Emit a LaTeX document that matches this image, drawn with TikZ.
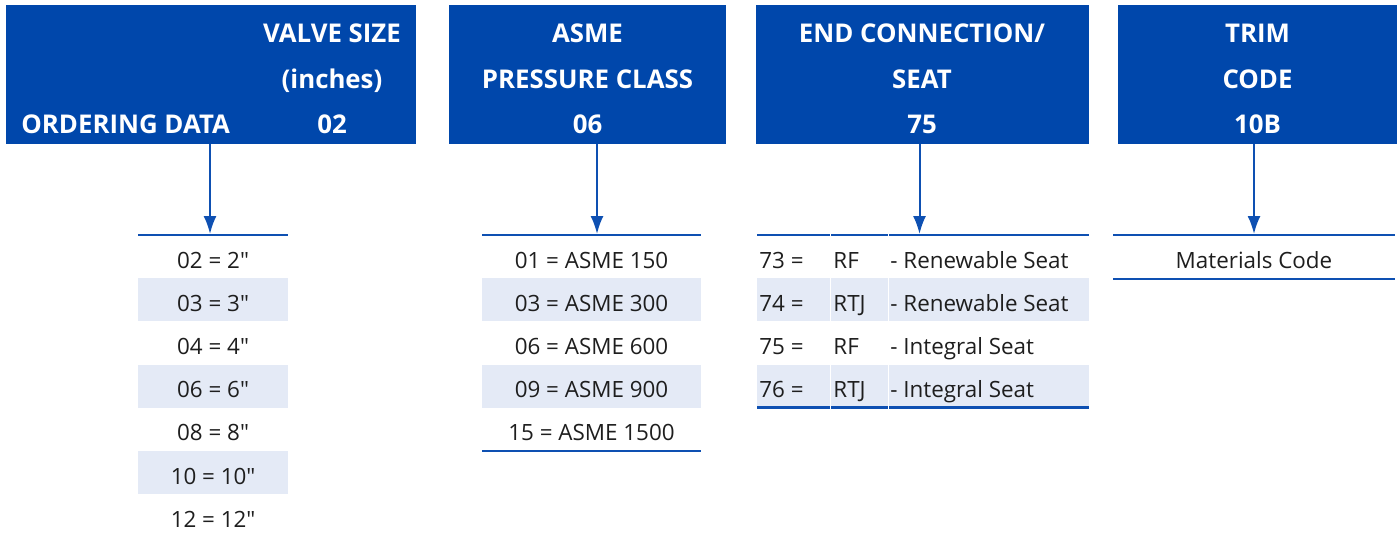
\documentclass[tikz,border=0pt]{standalone}
\usepackage{fontspec}
\setmainfont{Open Sans}
\usetikzlibrary{arrows.meta}

\begin{document}
\begin{tikzpicture}[x=0.5pt, y=-0.5pt]
            \definecolor{head_color}{RGB}{0,71,171}
            \definecolor{line_color}{RGB}{14,80,178}
            \definecolor{row_color}{RGB}{228,234,246}
            \definecolor{text_color}{RGB}{30,30,30}
            \tikzstyle{head} = [draw=none, fill=head_color, shape=rectangle, inner sep=0pt, minimum height=69.5pt]
            \tikzstyle{htxt} = [inner sep=0pt, anchor=base, text=white, font=\fontsize{12.9}{15}\selectfont\bfseries]
            \tikzstyle{rtxt} = [inner sep=0pt, anchor=base, text=text_color, font=\fontsize{11.2}{14}\selectfont]
            \tikzstyle{rule} = [line_color, line width=1pt]
            \tikzstyle{arr} = [line_color, line width=1pt, -{Latex[length=9pt,width=6.5pt]}]
            \useasboundingbox (0,0) rectangle (1397,536);
            % header boxes
            \node[head, minimum width=205pt] (h0) at (211,74.5) {};
            \node[head, minimum width=138.5pt] (h1) at (587.5,74.5) {};
            \node[head, minimum width=166.5pt] (h2) at (922.5,74.5) {};
            \node[head, minimum width=139.5pt] (h3) at (1257.5,74.5) {};
            \node[htxt] (vs0) at (332,42) {VALVE SIZE};
            \node[htxt] (vs1) at (332,88) {(inches)};
            \node[htxt] (vs2) at (332,133) {02};
            \node[htxt, anchor=base west] (od) at (21,133) {ORDERING DATA};
            \node[htxt] (pc0) at (587.5,42) {ASME};
            \node[htxt] (pc1) at (587.5,88) {PRESSURE CLASS};
            \node[htxt] (pc2) at (587.5,133) {06};
            \node[htxt] (ec0) at (922,42) {END CONNECTION/};
            \node[htxt] (ec1) at (922,88) {SEAT};
            \node[htxt] (ec2) at (922,133) {75};
            \node[htxt] (tc0) at (1257.5,42) {TRIM};
            \node[htxt] (tc1) at (1257.5,88) {CODE};
            \node[htxt] (tc2) at (1257.5,133) {10B};
            % shaded rows
            \fill[row_color] (138,278.2) rectangle (288,321.4);
            \fill[row_color] (138,364.6) rectangle (288,407.8);
            \fill[row_color] (138,451) rectangle (288,494.2);
            \fill[row_color] (482,278.2) rectangle (701,321.4);
            \fill[row_color] (482,364.6) rectangle (701,407.8);
            \fill[row_color] (757,278.2) rectangle (1089,321.4);
            \fill[row_color] (757,364.6) rectangle (1089,407.8);
            % table rules
            \draw[rule] (138,235) -- (288,235);
            \draw[rule] (482,235) -- (701,235);
            \draw[rule] (482,451) -- (701,451);
            \draw[rule] (757,235) -- (1089,235);
            \draw[rule, line width=1.2pt] (757,407.5) -- (1089,407.5);
            \draw[rule] (1113,235) -- (1395,235);
            \draw[rule] (1113,278.5) -- (1395,278.5);
            \draw[white, line width=0.1pt] (830,233) -- (830,409);
            \draw[white, line width=0.1pt] (888,233) -- (888,409);
            % arrows
            \coordinate (t0) at (210,234);
            \coordinate (t1) at (597,234);
            \coordinate (t2) at (919.5,234);
            \coordinate (t3) at (1254,234);
            \draw[arr] (h0.south -| t0) -- (t0);
            \draw[arr] (h1.south -| t1) -- (t1);
            \draw[arr] (h2.south -| t2) -- (t2);
            \draw[arr] (h3.south -| t3) -- (t3);
            % valve size
            \node[rtxt] (v0) at (213,268) {02 = 2″};
            \node[rtxt] (v1) at (213,311.2) {03 = 3″};
            \node[rtxt] (v2) at (213,354.4) {04 = 4″};
            \node[rtxt] (v3) at (213,397.6) {06 = 6″};
            \node[rtxt] (v4) at (213,440.8) {08 = 8″};
            \node[rtxt] (v5) at (213,484) {10 = 10″};
            \node[rtxt] (v6) at (213,527.2) {12 = 12″};
            % pressure class
            \node[rtxt] (p0) at (591.5,268) {01 = ASME 150};
            \node[rtxt] (p1) at (591.5,311.2) {03 = ASME 300};
            \node[rtxt] (p2) at (591.5,354.4) {06 = ASME 600};
            \node[rtxt] (p3) at (591.5,397.6) {09 = ASME 900};
            \node[rtxt] (p4) at (591.5,440.8) {15 = ASME 1500};
            % end connection
            \node[rtxt, anchor=base west] (e0) at (759,268) {73 =};
            \node[rtxt, anchor=base west] (e1) at (759,311.2) {74 =};
            \node[rtxt, anchor=base west] (e2) at (759,354.4) {75 =};
            \node[rtxt, anchor=base west] (e3) at (759,397.6) {76 =};
            \node[rtxt, anchor=base west] (f0) at (833,268) {RF};
            \node[rtxt, anchor=base west] (f1) at (833,311.2) {RTJ};
            \node[rtxt, anchor=base west] (f2) at (833,354.4) {RF};
            \node[rtxt, anchor=base west] (f3) at (833,397.6) {RTJ};
            \node[rtxt, anchor=base west] (s0) at (890,268) {- Renewable Seat};
            \node[rtxt, anchor=base west] (s1) at (890,311.2) {- Renewable Seat};
            \node[rtxt, anchor=base west] (s2) at (890,354.4) {- Integral Seat};
            \node[rtxt, anchor=base west] (s3) at (890,397.6) {- Integral Seat};
            % trim code
            \node[rtxt] (m0) at (1254,268) {Materials Code};
        \end{tikzpicture}
\end{document}
